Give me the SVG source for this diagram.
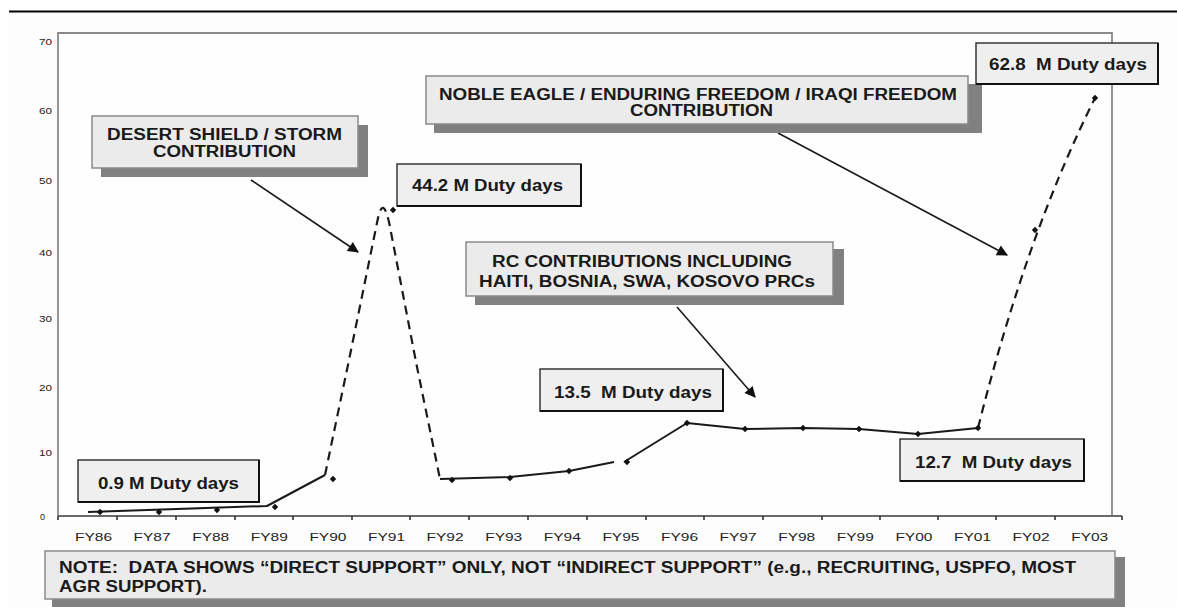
<svg xmlns="http://www.w3.org/2000/svg" width="1177" height="607" viewBox="0 0 1177 607">
<style>
.bt{font-family:"Liberation Sans",Arial,sans-serif;font-weight:bold;font-size:16px;fill:#1a1a1a}
.ax{font-family:"Liberation Sans",Arial,sans-serif;font-size:11px;fill:#222}
.yl{font-family:"Liberation Sans",Arial,sans-serif;font-size:9px;fill:#222;text-anchor:end}
.box{fill:#ebebeb;stroke:#8a8a8a;stroke-width:1.5}
.shd{fill:#808080}
.dbox{fill:#efefef;stroke:#2a2a2a;stroke-width:1.4}
.dedge{fill:none;stroke:#111;stroke-width:2}
.sol{fill:none;stroke:#1a1a1a;stroke-width:2;stroke-linejoin:round}
.dsh{fill:none;stroke:#1a1a1a;stroke-width:2.2;stroke-dasharray:9 6}
.con{fill:none;stroke:#1a1a1a;stroke-width:1.6;marker-end:url(#arr)}
.frame{fill:none;stroke:#8a8a8a;stroke-width:1.8}
</style>
<defs>
<marker id="arr" viewBox="0 0 10 10" refX="9" refY="5" markerUnits="userSpaceOnUse" markerWidth="15" markerHeight="11" orient="auto"><path d="M0,0 L10,5 L0,10 z" fill="#111"/></marker>
<path id="mk" d="M0,-3.2 L3.2,0 L0,3.2 L-3.2,0 z" fill="#111"/>
</defs>
<rect x="0" y="0" width="1177" height="607" fill="#ffffff"/>
<rect x="9" y="13" width="1168" height="594" fill="#fdfdfd"/>
<line x1="9" y1="11.5" x2="1177" y2="11.5" stroke="#000" stroke-width="2.2"/>

<g id="axes">
<rect x="58" y="33" width="1054" height="483" fill="#fefefe"/>
<polyline class="frame" points="58,516 58,33 1112,33 1112,516"/>
<line x1="58" y1="516" x2="1122" y2="516" stroke="#6a6a6a" stroke-width="2"/>
<g stroke="#333" stroke-width="1.6">
<line x1="58" y1="516" x2="58" y2="520"/><line x1="117" y1="516" x2="117" y2="520"/><line x1="176" y1="516" x2="176" y2="520"/><line x1="235" y1="516" x2="235" y2="520"/><line x1="293" y1="516" x2="293" y2="520"/><line x1="352" y1="516" x2="352" y2="520"/><line x1="410" y1="516" x2="410" y2="520"/><line x1="469" y1="516" x2="469" y2="520"/><line x1="528" y1="516" x2="528" y2="520"/><line x1="587" y1="516" x2="587" y2="520"/><line x1="646" y1="516" x2="646" y2="520"/><line x1="704" y1="516" x2="704" y2="520"/><line x1="763" y1="516" x2="763" y2="520"/><line x1="822" y1="516" x2="822" y2="520"/><line x1="880" y1="516" x2="880" y2="520"/><line x1="938" y1="516" x2="938" y2="520"/><line x1="996" y1="516" x2="996" y2="520"/><line x1="1055" y1="516" x2="1055" y2="520"/><line x1="1122" y1="516" x2="1122" y2="520"/>
</g>
<text class="yl" x="52" y="44.5" textLength="13" lengthAdjust="spacingAndGlyphs">70</text>
<text class="yl" x="52" y="113.5" textLength="13" lengthAdjust="spacingAndGlyphs">60</text>
<text class="yl" x="52" y="183.5" textLength="13" lengthAdjust="spacingAndGlyphs">50</text>
<text class="yl" x="52" y="255.5" textLength="13" lengthAdjust="spacingAndGlyphs">40</text>
<text class="yl" x="52" y="321.5" textLength="13" lengthAdjust="spacingAndGlyphs">30</text>
<text class="yl" x="52" y="390.5" textLength="13" lengthAdjust="spacingAndGlyphs">20</text>
<text class="yl" x="52" y="455.5" textLength="13" lengthAdjust="spacingAndGlyphs">10</text>
<text class="yl" x="45" y="519.5">0</text>
<g class="ax">
<text x="75" y="541" textLength="37" lengthAdjust="spacingAndGlyphs">FY86</text>
<text x="133.6" y="541" textLength="37" lengthAdjust="spacingAndGlyphs">FY87</text>
<text x="192.2" y="541" textLength="37" lengthAdjust="spacingAndGlyphs">FY88</text>
<text x="250.8" y="541" textLength="37" lengthAdjust="spacingAndGlyphs">FY89</text>
<text x="309.4" y="541" textLength="37" lengthAdjust="spacingAndGlyphs">FY90</text>
<text x="368" y="541" textLength="37" lengthAdjust="spacingAndGlyphs">FY91</text>
<text x="426.6" y="541" textLength="37" lengthAdjust="spacingAndGlyphs">FY92</text>
<text x="485.2" y="541" textLength="37" lengthAdjust="spacingAndGlyphs">FY93</text>
<text x="543.8" y="541" textLength="37" lengthAdjust="spacingAndGlyphs">FY94</text>
<text x="602.4" y="541" textLength="37" lengthAdjust="spacingAndGlyphs">FY95</text>
<text x="661" y="541" textLength="37" lengthAdjust="spacingAndGlyphs">FY96</text>
<text x="719.6" y="541" textLength="37" lengthAdjust="spacingAndGlyphs">FY97</text>
<text x="778.2" y="541" textLength="37" lengthAdjust="spacingAndGlyphs">FY98</text>
<text x="836.8" y="541" textLength="37" lengthAdjust="spacingAndGlyphs">FY99</text>
<text x="895.4" y="541" textLength="37" lengthAdjust="spacingAndGlyphs">FY00</text>
<text x="954" y="541" textLength="37" lengthAdjust="spacingAndGlyphs">FY01</text>
<text x="1012.6" y="541" textLength="37" lengthAdjust="spacingAndGlyphs">FY02</text>
<text x="1071.2" y="541" textLength="37" lengthAdjust="spacingAndGlyphs">FY03</text>
</g>
</g>

<g id="series">
<path class="sol" d="M88,512 L267,506 L325,475"/>
<path class="dsh" d="M325,475 L349,360 L378,218 Q383,196 389,222 L417,367 L440,479"/>
<path class="sol" d="M440,479 L510,477 L569,471 L614,462 M624,462 L687,423 L745,429 L803,428 L859,429 L918,434 L978,428"/>
<path class="dsh" d="M978,428 Q1026,236 1095,98"/>
<use href="#mk" x="100" y="512"/><use href="#mk" x="159" y="512"/><use href="#mk" x="217" y="510"/><use href="#mk" x="275" y="507"/><use href="#mk" x="333" y="479"/><use href="#mk" x="393" y="210"/><use href="#mk" x="452" y="480"/><use href="#mk" x="510" y="478"/><use href="#mk" x="569" y="471"/><use href="#mk" x="627" y="462"/><use href="#mk" x="687" y="423"/><use href="#mk" x="745" y="429"/><use href="#mk" x="803" y="428"/><use href="#mk" x="859" y="429"/><use href="#mk" x="918" y="434"/><use href="#mk" x="978" y="428"/><use href="#mk" x="1035" y="230"/><use href="#mk" x="1095" y="98"/>
</g>

<g id="connectors">
<line class="con" x1="251" y1="180" x2="358" y2="252"/>
<line class="con" x1="677" y1="307" x2="755" y2="397"/>
<line class="con" x1="778" y1="133" x2="1007" y2="255"/>
</g>

<g id="desert">
<rect class="shd" x="101" y="125" width="267" height="52"/>
<rect class="box" x="92" y="116" width="266" height="52"/>
<text class="bt" x="107" y="140" textLength="235" lengthAdjust="spacingAndGlyphs">DESERT SHIELD / STORM</text>
<text class="bt" x="153" y="157" textLength="143" lengthAdjust="spacingAndGlyphs">CONTRIBUTION</text>
</g>

<g id="noble">
<rect class="shd" x="434" y="84" width="548" height="49"/>
<rect class="box" x="426" y="76" width="542" height="48"/>
<text class="bt" x="439" y="100" textLength="518" lengthAdjust="spacingAndGlyphs">NOBLE EAGLE / ENDURING FREEDOM / IRAQI FREEDOM</text>
<text class="bt" x="630" y="116" textLength="143" lengthAdjust="spacingAndGlyphs">CONTRIBUTION</text>
</g>

<g id="rc">
<rect class="shd" x="475" y="249" width="369" height="56"/>
<rect class="box" x="466" y="242" width="367" height="54"/>
<text class="bt" x="492" y="267" textLength="300" lengthAdjust="spacingAndGlyphs">RC CONTRIBUTIONS INCLUDING</text>
<text class="bt" x="479" y="286.5" textLength="336" lengthAdjust="spacingAndGlyphs">HAITI, BOSNIA, SWA, KOSOVO PRCs</text>
</g>

<g id="d09">
<rect class="dbox" x="78" y="460" width="181" height="42"/>
<polyline class="dedge" points="78,502 259,502 259,460"/>
<text class="bt" x="98" y="489" textLength="141" lengthAdjust="spacingAndGlyphs">0.9 M Duty days</text>
</g>

<g id="d442">
<rect class="dbox" x="397" y="164" width="184" height="42"/>
<polyline class="dedge" points="397,206 581,206 581,164"/>
<text class="bt" x="412" y="191" textLength="151" lengthAdjust="spacingAndGlyphs">44.2 M Duty days</text>
</g>

<g id="d135">
<rect class="dbox" x="540" y="369" width="183" height="42"/>
<polyline class="dedge" points="540,411 723,411 723,369"/>
<text class="bt" x="554" y="398" textLength="158" lengthAdjust="spacingAndGlyphs" xml:space="preserve">13.5  M Duty days</text>
</g>

<g id="d127">
<rect class="dbox" x="900" y="439" width="184" height="42"/>
<polyline class="dedge" points="900,481 1084,481 1084,439"/>
<text class="bt" x="915" y="468" textLength="157" lengthAdjust="spacingAndGlyphs" xml:space="preserve">12.7  M Duty days</text>
</g>

<g id="d628">
<rect class="dbox" x="976" y="43" width="182" height="41"/>
<polyline class="dedge" points="976,84 1158,84 1158,43"/>
<text class="bt" x="989" y="70" textLength="158" lengthAdjust="spacingAndGlyphs" xml:space="preserve">62.8  M Duty days</text>
</g>

<g id="note">
<rect class="shd" x="52" y="557" width="1073" height="52"/>
<rect class="box" x="45" y="551" width="1070" height="48"/>
<text class="bt" x="59" y="573" textLength="1017" lengthAdjust="spacingAndGlyphs" xml:space="preserve">NOTE:  DATA SHOWS “DIRECT SUPPORT” ONLY, NOT “INDIRECT SUPPORT” (e.g., RECRUITING, USPFO, MOST</text>
<text class="bt" x="59" y="592" textLength="148" lengthAdjust="spacingAndGlyphs">AGR SUPPORT).</text>
</g>
</svg>
